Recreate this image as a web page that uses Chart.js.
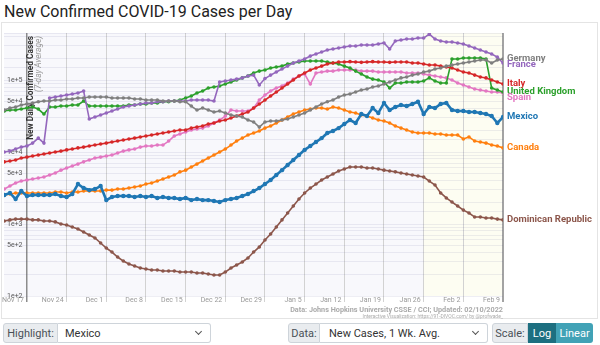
<!DOCTYPE html>
<html>
<head>
<meta charset="utf-8">
<script src="https://cdn.jsdelivr.net/npm/chart.js@4.4.1/dist/chart.umd.min.js"></script>
<style>
    body { margin: 0; width: 600px; height: 345px; overflow: hidden; background: #fff; font-family: Roboto, sans-serif; }
    #title { position: absolute; left: 4px; top: 2px; font-size: 16px; color: #222; white-space: nowrap; }
    #card { position: absolute; left: 1px; top: 22px; width: 597px; height: 297px; border: 1px solid #e4e4e4; box-sizing: border-box; }
    #chart { position: absolute; left: 0; top: 0; }
    .grp { position: absolute; top: 323px; height: 20px; display: flex; font-size: 11px; color: #495057; }
    .addon { background: #e9ecef; border: 1px solid #ced4da; display: flex; align-items: center; justify-content: center; box-sizing: border-box; border-radius: 3px 0 0 3px; }
    .sel { background: #fff; border: 1px solid #ced4da; border-left: none; display: flex; align-items: center; padding-left: 7px; box-sizing: border-box; border-radius: 0 3px 3px 0; position: relative; color: #333; }
    .chev { position: absolute; right: 9px; top: 5px; width: 4px; height: 4px; border-right: 1.3px solid #555; border-bottom: 1.3px solid #555; transform: rotate(45deg); }
    .btn { display: flex; align-items: center; justify-content: center; color: #fff; box-sizing: border-box; }
</style>
</head>
<body>
<div id="title">New Confirmed COVID-19 Cases per Day</div>
<div id="card"></div>
<canvas id="chart" width="600" height="320"></canvas>

<div class="grp" style="left:3px;width:208px">
    <div class="addon" style="width:55px">Highlight:</div>
    <div class="sel" style="flex:1">Mexico<span class="chev"></span></div>
</div>
<div class="grp" style="left:288px;width:200px">
    <div class="addon" style="width:32px">Data:</div>
    <div class="sel" style="flex:1;padding-left:9px">New Cases, 1 Wk. Avg.<span class="chev"></span></div>
</div>
<div class="grp" style="left:492px;width:101px">
    <div class="addon" style="width:36px">Scale:</div>
    <div class="btn" style="width:28px;background:#1d6f80">Log</div>
    <div class="btn" style="flex:1;background:#41a2b6;border-radius:0 3px 3px 0">Linear</div>
</div>

<script>
// day 0 = Nov 17, 2021 ; first point is Nov 13
const firstDay = -4;
const tickDays = [0, 7, 14, 21, 28, 35, 42, 49, 56, 63, 70, 77, 84];
const tickLabels = ['Nov 17', 'Nov 24', 'Dec 1', 'Dec 8', 'Dec 15', 'Dec 22', 'Dec 29', 'Jan 5', 'Jan 12', 'Jan 19', 'Jan 26', 'Feb 2', 'Feb 9'];

// 7-day averages, Nov 13 -> Feb 9
const germany = [38300, 40800, 42200, 45000, 46400, 48000, 50000, 51100, 51100, 52700, 52700, 54400, 54400, 56200, 56200, 58000, 58000, 58000, 58000, 56200, 56200, 56200, 56200, 54400, 54400, 52700, 52700, 52700, 51100, 51100, 51100, 50000, 50000, 43500, 38300, 40800, 38300, 35900, 37100, 34800, 32700, 31600, 30600, 27800, 26100, 22200, 26100, 27000, 27000, 27800, 28700, 30600, 32700, 34800, 38300, 42200, 46400, 50000, 52700, 58000, 61900, 64000, 68100, 72600, 75000, 80000, 82500, 88000, 93800, 100000, 107000, 110000, 117000, 121000, 129000, 133000, 142000, 147000, 156000, 162000, 167000, 172000, 178000, 184000, 190000, 190000, 172000, 190000, 196000];
const france = [10000, 10300, 11000, 11700, 12100, 13300, 15600, 13300, 56200, 58000, 60000, 61900, 64000, 66000, 70300, 28700, 30600, 32700, 34800, 37100, 39500, 42200, 43500, 45000, 46400, 48000, 48000, 50000, 50000, 51100, 51100, 51100, 51100, 52700, 52700, 52700, 52700, 51100, 93800, 96800, 100000, 103000, 107000, 114000, 117000, 85300, 105000, 117000, 129000, 142000, 156000, 172000, 184000, 196000, 215000, 230000, 245000, 261000, 270000, 278000, 287000, 297000, 297000, 306000, 306000, 306000, 316000, 327000, 270000, 348000, 359000, 371000, 371000, 383000, 383000, 435000, 371000, 348000, 337000, 337000, 327000, 316000, 297000, 278000, 261000, 245000, 230000, 208000, 172000];
const italy = [7300, 7500, 7740, 8250, 8500, 8800, 9100, 9400, 9700, 10000, 10300, 10700, 11000, 11400, 11700, 12100, 12500, 12900, 13300, 13800, 14200, 14700, 15200, 15600, 16200, 16700, 17200, 17800, 18400, 19000, 19600, 20200, 20200, 21500, 22200, 23000, 24500, 25300, 27000, 27800, 29700, 31600, 33700, 35900, 40800, 46400, 52700, 60000, 68100, 77400, 88000, 100000, 114000, 125000, 138000, 147000, 156000, 167000, 172000, 178000, 178000, 180000, 178000, 176000, 178000, 180000, 178000, 178000, 176000, 178000, 178000, 178000, 172000, 172000, 167000, 162000, 162000, 156000, 152000, 147000, 138000, 129000, 125000, 117000, 110000, 107000, 100000, 93800, 88000];
const unitedKingdom = [37100, 38300, 38300, 39500, 40800, 42200, 39500, 33700, 42200, 42200, 43500, 43500, 45000, 45000, 51100, 43500, 43500, 43500, 43500, 43500, 43500, 43500, 45000, 45000, 46400, 46400, 48000, 48000, 50000, 50000, 51100, 52700, 56200, 60000, 66000, 70300, 77400, 80000, 82500, 88000, 93800, 100000, 107000, 114000, 125000, 133000, 138000, 147000, 152000, 156000, 167000, 172000, 178000, 184000, 184000, 184000, 184000, 178000, 172000, 167000, 156000, 147000, 133000, 121000, 110000, 103000, 100000, 93800, 77400, 90800, 90800, 93800, 93800, 93800, 96800, 107000, 96800, 90800, 90800, 196000, 196000, 202000, 202000, 202000, 202000, 196000, 77400, 72600, 68100];
const spain = [3060, 3370, 3710, 3950, 4080, 4220, 4350, 4500, 4800, 5110, 5600, 6000, 6400, 6800, 7300, 7740, 8250, 8500, 8800, 9100, 9700, 10300, 10700, 11000, 11700, 12100, 12100, 12500, 12500, 14200, 16700, 17800, 19000, 20200, 20900, 21500, 23000, 25300, 27800, 31600, 38300, 37100, 37100, 37100, 40800, 52700, 61900, 70300, 77400, 82500, 90800, 103000, 114000, 121000, 88000, 125000, 129000, 133000, 133000, 138000, 138000, 138000, 138000, 133000, 133000, 133000, 129000, 129000, 129000, 129000, 129000, 125000, 125000, 125000, 121000, 117000, 114000, 110000, 107000, 100000, 90800, 85300, 80000, 75000, 72600, 70300, 68100, 68100, 66000];
const mexico = [2530, 2700, 2220, 2870, 2450, 2530, 2530, 2530, 2530, 2610, 2450, 2370, 2610, 3590, 3160, 2960, 3060, 3370, 2150, 2370, 2450, 2450, 2450, 2370, 2450, 2370, 2450, 2300, 2370, 2300, 2300, 2220, 2300, 2150, 2220, 2150, 2150, 2090, 2020, 2150, 2220, 2300, 2450, 2610, 2870, 3160, 3590, 4080, 4800, 5600, 6600, 7740, 9100, 10700, 12100, 13800, 15600, 18400, 19600, 21500, 24500, 27800, 25300, 33700, 31600, 40800, 34800, 48000, 38300, 42200, 45000, 43500, 46400, 50000, 33700, 42200, 40800, 46400, 48000, 38300, 37100, 37100, 35900, 35900, 34800, 33700, 31600, 25300, 30600];
const canada = [2530, 2610, 2700, 2700, 2700, 2700, 2700, 2700, 2700, 2780, 2780, 2700, 2780, 2780, 2870, 2870, 2870, 2870, 2960, 2960, 3060, 3060, 3160, 3270, 3370, 3590, 3710, 3950, 4220, 4500, 4800, 5300, 5600, 6190, 6800, 7500, 8250, 9100, 10000, 11000, 12500, 14200, 15600, 17200, 18400, 19600, 21500, 23000, 25300, 27800, 30600, 33700, 35900, 38300, 39500, 40800, 40800, 39500, 42200, 40800, 38300, 35900, 34800, 32700, 31600, 29700, 27800, 27000, 25300, 23000, 21500, 20200, 19000, 18400, 18400, 18400, 17800, 17800, 17200, 17200, 17200, 15200, 16200, 14200, 13800, 13300, 12500, 12100, 11400];
const dominicanRepublic = [1100, 1140, 1170, 1170, 1170, 1140, 1140, 1100, 1100, 1070, 1000, 968, 908, 853, 774, 703, 639, 545, 464, 408, 348, 306, 278, 261, 245, 237, 230, 230, 222, 222, 222, 215, 215, 215, 209, 209, 202, 196, 196, 215, 245, 270, 297, 337, 408, 480, 600, 726, 908, 1140, 1420, 1780, 2220, 2700, 3160, 3590, 4080, 4500, 4950, 5450, 5810, 6190, 6190, 6190, 6000, 6000, 5810, 5600, 5450, 5300, 5110, 4950, 4800, 4640, 4500, 3950, 3480, 2700, 2300, 2020, 1780, 1560, 1420, 1250, 1250, 1210, 1210, 1170, 1140];

const countries = ['Germany', 'France', 'Italy', 'United Kingdom', 'Spain', 'Mexico', 'Canada', 'Dominican Republic'];
const series = [germany, france, italy, unitedKingdom, spain, mexico, canada, dominicanRepublic];
const colors = ['#7f7f7f', '#9467bd', '#d62728', '#2ca02c', '#e377c2', '#1f77b4', '#ff7f0e', '#8c564b'];
const highlight = 'Mexico';

Chart.defaults.font.family = 'Roboto, sans-serif';

const datasets = countries.map(function (name, i) {
    const hi = name === highlight;
    return {
        label: name,
        data: series[i].map((v, k) => ({ x: firstDay + k, y: v })),
        borderColor: colors[i],
        backgroundColor: colors[i],
        borderWidth: hi ? 2.6 : 1.6,
        pointRadius: hi ? 2.2 : 1.8,
        pointBorderWidth: 0,
        tension: 0,
        order: hi ? 0 : 1
    };
});

// fit a font so that the text takes a given width
function fitText(ctx, text, weight, width) {
    ctx.font = weight + ' 10px Roboto';
    const size = 10 * width / ctx.measureText(text).width;
    ctx.font = weight + ' ' + size.toFixed(2) + 'px Roboto';
}

const backdrop = {
    id: 'backdrop',
    beforeDraw(chart) {
        const { ctx, chartArea: a, scales } = chart;
        ctx.save();
        ctx.fillStyle = '#f8f8fc';
        ctx.fillRect(a.left, a.top, a.right - a.left, a.bottom - a.top);
        const x0 = scales.x.getPixelForValue(70);
        ctx.fillStyle = '#fdfdf2';
        ctx.fillRect(x0, a.top, a.right - x0, a.bottom - a.top);
        ctx.restore();
    },
    beforeDatasetsDraw(chart) {
        const { ctx, chartArea: a } = chart;
        ctx.save();
        ctx.textAlign = 'right';
        ctx.textBaseline = 'middle';
        ctx.translate(31, a.top + 3);
        ctx.rotate(-Math.PI / 2);
        ctx.fillStyle = '#333';
        fitText(ctx, 'New Daily Confirmed Cases', 'bold', 104);
        ctx.fillText('New Daily Confirmed Cases', 0, 0);
        ctx.fillStyle = '#999';
        fitText(ctx, '(7-day Average)', 'italic', 56);
        ctx.fillText('(7-day Average)', 0, 8);
        ctx.restore();
    }
};

const endLabels = {
    id: 'endLabels',
    afterDatasetsDraw(chart) {
        const { ctx, chartArea: a } = chart;
        const items = chart.data.datasets.map(function (ds, i) {
            const pts = chart.getDatasetMeta(i).data;
            return { name: ds.label, color: ds.borderColor, y: pts[pts.length - 1].y };
        }).sort((p, q) => p.y - q.y);
        for (let i = 1; i < items.length; i++) {
            items[i].y = Math.max(items[i].y, items[i - 1].y + 6);
        }
        ctx.save();
        ctx.font = 'bold 9.5px Roboto';
        ctx.textBaseline = 'middle';
        items.forEach(function (it) {
            ctx.fillStyle = it.color;
            ctx.fillText(it.name, a.right + 4, it.y);
        });
        // source note
        ctx.textAlign = 'right';
        ctx.fillStyle = '#aaa';
        fitText(ctx, 'Data: Johns Hopkins University CSSE / CCI; Updated: 02/10/2022', 'bold', 213);
        ctx.fillText('Data: Johns Hopkins University CSSE / CCI; Updated: 02/10/2022', a.right, 310);
        fitText(ctx, 'Interactive Visualization: https://91-DIVOC.com/ by @profwade_', 'normal', 141);
        ctx.fillText('Interactive Visualization: https://91-DIVOC.com/ by @profwade_', a.right, 317);
        ctx.restore();
    }
};

function yLabel(value) {
    const exp = Math.floor(Math.log10(value) + 1e-9);
    const m = Math.round(value / Math.pow(10, exp));
    if (exp > 4 && m === 5) return '';
    return (m === 1 || m === 5) ? m + 'e+' + exp : '';
}

new Chart(document.getElementById('chart'), {
    type: 'line',
    data: { datasets: datasets },
    options: {
        responsive: false,
        animation: false,
        layout: { padding: { top: 33, left: 2, right: 97, bottom: 12 } },
        plugins: { legend: { display: false }, tooltip: { enabled: false } },
        scales: {
            x: {
                type: 'linear',
                min: firstDay - 0.05,
                max: 84,
                afterFit: s => { s.height = 12; },
                afterBuildTicks: s => { s.ticks = tickDays.map(v => ({ value: v })); },
                ticks: {
                    autoSkip: false,
                    maxRotation: 0,
                    align: 'end',
                    labelOffset: -3,
                    padding: -6,
                    font: { size: 7 },
                    color: '#999',
                    callback: v => tickLabels[tickDays.indexOf(v)]
                },
                grid: {
                    color: c => c.tick && c.tick.value === 0 ? '#8c8c8c' : (c.tick && c.tick.value === 84 ? '#a3a3a3' : '#d2d2d2'),
                    lineWidth: c => c.tick && c.tick.value === 0 ? 1.5 : (c.tick && c.tick.value === 84 ? 2 : 1),
                    tickLength: 6
                },
                border: { display: false }
            },
            y: {
                type: 'logarithmic',
                min: 100,
                max: 450000,
                afterFit: s => { s.width = 0; },
                ticks: {
                    mirror: true,
                    padding: 3,
                    autoSkip: false,
                    font: { size: 7 },
                    color: '#555',
                    callback: yLabel
                },
                grid: { color: 'rgba(70,70,130,0.09)', drawTicks: false },
                border: { display: false }
            }
        }
    },
    plugins: [backdrop, endLabels]
});
</script>
</body>
</html>
